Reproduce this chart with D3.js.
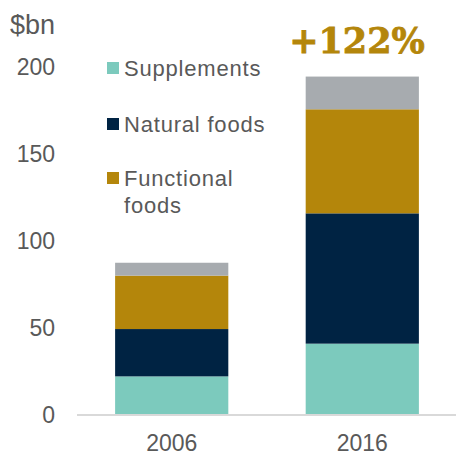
<!DOCTYPE html>
<html>
<head>
<meta charset="utf-8">
<script src="https://cdn.jsdelivr.net/npm/d3@7"></script>
<style>
  html, body { margin: 0; padding: 0; background: #fff; }
  svg { display: block; }
</style>
</head>
<body>
<script>
// Market size by segment, $bn
const years = ["2006", "2016"];
const seriesNames = ["Supplements", "Natural foods", "Functional foods", "Other"];
const supplements = [22.2, 41.0];
const naturalFoods = [27.2, 74.9];
const functionalFoods = [30.7, 59.8];
const other = [7.4, 18.8];
const yTicks = [0, 50, 100, 150, 200];
const legendLabels = [["Supplements"], ["Natural foods"], ["Functional", "foods"]];

const colors = ["#7ccabd", "#002343", "#b4860b", "#a7abaf"];
const textColor = "#595959";

const W = 456, H = 455;
const svg = d3.select("body").append("svg").attr("width", W).attr("height", H);

const rows = years.map((y, i) => ({
  year: y,
  "Supplements": supplements[i],
  "Natural foods": naturalFoods[i],
  "Functional foods": functionalFoods[i],
  "Other": other[i]
}));

const stack = d3.stack().keys(seriesNames)(rows);

const x = d3.scaleBand().domain(years).range([77, 457]).paddingInner(0.406).paddingOuter(0.2);
const y = d3.scaleLinear().domain([0, 200]).range([415, 67]);

// stacked bars
svg.append("g").selectAll("g")
  .data(stack)
  .join("g")
  .attr("fill", (d, i) => colors[i])
  .selectAll("rect")
  .data(d => d)
  .join("rect")
  .attr("x", d => x(d.data.year))
  .attr("width", x.bandwidth())
  .attr("y", d => y(d[1]))
  .attr("height", d => y(d[0]) - y(d[1]));

// baseline
svg.append("line")
  .attr("x1", 77).attr("x2", W)
  .attr("y1", y(0)).attr("y2", y(0))
  .attr("stroke", "#d9d9d9").attr("stroke-width", 2);

// y axis labels
const yAxis = d3.axisLeft(y).tickValues(yTicks).tickSize(0).tickPadding(0);
const yg = svg.append("g").attr("transform", "translate(55,0)").call(yAxis);
yg.select(".domain").remove();
yg.selectAll("text")
  .attr("font-family", "Liberation Sans, Arial, sans-serif")
  .attr("font-size", 23)
  .attr("fill", textColor);

// x axis labels
const xAxis = d3.axisBottom(x).tickSize(0).tickPadding(0);
const xg = svg.append("g").attr("transform", "translate(0,435)").call(xAxis);
xg.select(".domain").remove();
xg.selectAll("text")
  .attr("dy", "0.71em")
  .attr("font-family", "Liberation Sans, Arial, sans-serif")
  .attr("font-size", 23)
  .attr("fill", textColor);

// unit label
svg.append("text")
  .attr("x", 10).attr("y", 34)
  .attr("font-family", "Liberation Sans, Arial, sans-serif")
  .attr("font-size", 27)
  .attr("fill", textColor)
  .text("$bn");

// growth label computed from totals
const totals = rows.map(r => seriesNames.reduce((s, k) => s + r[k], 0));
const growth = Math.round((totals[1] / totals[0] - 1) * 100);
svg.append("text")
  .attr("x", 357)
  .attr("y", 53)
  .attr("text-anchor", "middle")
  .attr("font-family", "DejaVu Serif, serif")
  .attr("font-weight", "bold")
  .attr("font-size", 35)
  .attr("fill", "#b4860b")
  .attr("stroke", "#b4860b")
  .attr("stroke-width", 0.8)
  .text("+" + growth + "%");

// legend
const legendTop = [62, 118, 172];
const leg = svg.append("g");
legendLabels.forEach((lines, i) => {
  leg.append("rect")
    .attr("x", 107).attr("y", legendTop[i])
    .attr("width", 12).attr("height", 12)
    .attr("fill", colors[i]);
  const t = leg.append("text")
    .attr("font-family", "Liberation Sans, Arial, sans-serif")
    .attr("font-size", 22)
    .attr("letter-spacing", 0.8)
    .attr("fill", textColor);
  lines.forEach((s, j) => {
    t.append("tspan").attr("x", 124).attr("y", legendTop[i] + 14 + j * 27).text(s);
  });
});
</script>
</body>
</html>
